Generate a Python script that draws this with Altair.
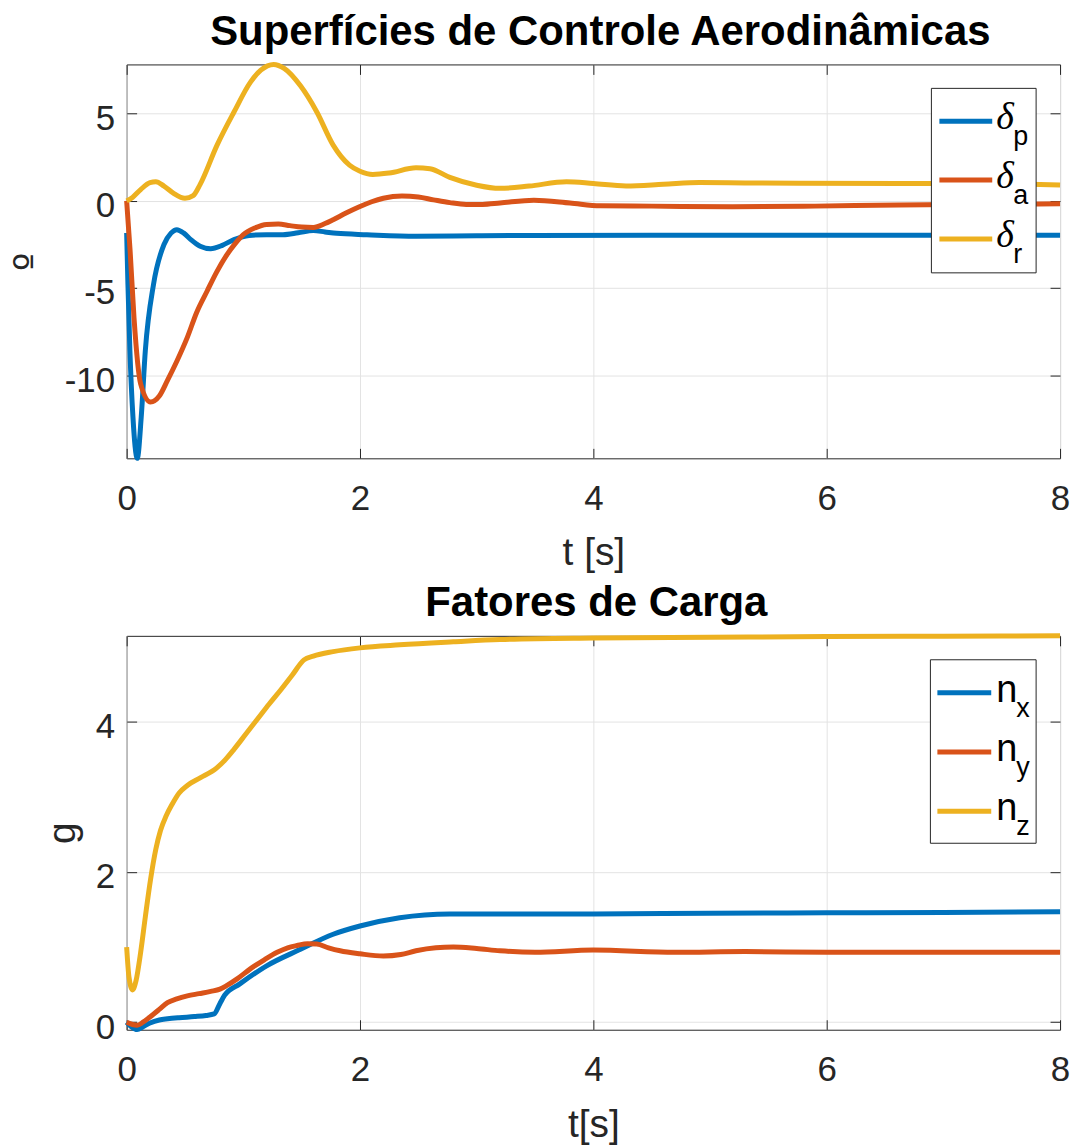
import altair as alt
import pandas as pd

# ---------------- Superfícies de controle (graus) ----------------
t_dp = [0.000, 0.011, 0.028, 0.054, 0.091, 0.125, 0.160, 0.23, 0.32, 0.38, 0.43, 0.49,
        0.55, 0.63, 0.72, 0.82, 0.92, 1.05, 1.20, 1.34, 1.47, 1.60, 1.70, 1.80, 2.06,
        2.48, 3.0, 3.5, 4.5, 6.0, 8.0]
v_dp = [-1.84, -4.8, -8.6, -12.4, -14.77, -12.4, -8.6, -4.8, -2.5, -1.85, -1.65, -1.85,
        -2.22, -2.6, -2.74, -2.55, -2.22, -1.98, -1.94, -1.94, -1.83, -1.70, -1.78, -1.86, -1.94,
        -2.03, -2.0, -1.98, -1.97, -1.97, -1.97]

t_da = [0.000, 0.03, 0.063, 0.12, 0.205, 0.28, 0.35, 0.43, 0.52, 0.60, 0.69, 0.77, 0.86,
        0.93, 1.00, 1.10, 1.20, 1.30, 1.40, 1.50, 1.60, 1.70, 1.77, 1.88, 2.00, 2.10, 2.20,
        2.36, 2.50, 2.63, 2.77, 2.91, 3.05, 3.20, 3.49, 3.8, 4.06, 4.5, 5.19, 5.9, 6.62,
        7.3, 8.0]
v_da = [0.0, -2.9, -6.7, -10.5, -11.54, -11.2, -10.3, -9.2, -7.83, -6.4, -5.17, -4.1, -3.08,
        -2.45, -1.94, -1.55, -1.35, -1.33, -1.42, -1.5, -1.52, -1.3, -1.08, -0.7, -0.32, -0.05,
        0.15, 0.28, 0.22, 0.06, -0.10, -0.2, -0.2, -0.12, 0.04, -0.12, -0.28, -0.3, -0.34,
        -0.3, -0.23, -0.2, -0.17]

t_dr = [0.00, 0.05, 0.12, 0.20, 0.25, 0.32, 0.40, 0.50, 0.57, 0.63, 0.775, 0.92, 1.06,
        1.15, 1.26, 1.35, 1.49, 1.63, 1.77, 1.91, 2.00, 2.11, 2.25, 2.48, 2.60, 2.77, 3.00,
        3.20, 3.45, 3.77, 4.0, 4.28, 4.6, 4.91, 5.3, 5.76, 6.62, 7.2, 7.66, 8.0]
v_dr = [0.0, 0.2, 0.65, 1.05, 1.1, 0.85, 0.45, 0.15, 0.3, 0.95, 3.2, 5.1, 6.8,
        7.5, 7.83, 7.6, 6.6, 5.1, 3.2, 2.05, 1.7, 1.52, 1.6, 1.9, 1.85, 1.35, 0.9,
        0.72, 0.85, 1.10, 1.0, 0.86, 0.95, 1.05, 1.03, 1.01, 1.0, 1.0, 0.97, 0.91]

# ---------------- Fatores de carga (g) ----------------
t_nx = [0.00, 0.04, 0.09, 0.14, 0.20, 0.28, 0.35, 0.45, 0.58, 0.68, 0.75, 0.80, 0.84,
        0.97, 1.20, 1.49, 1.77, 2.00, 2.34, 2.77, 3.2, 4.0, 5.0, 6.0, 7.0, 8.0]
v_nx = [0.0, -0.06, -0.098, -0.06, -0.01, 0.03, 0.045, 0.06, 0.075, 0.09, 0.11, 0.25, 0.36,
        0.51, 0.75, 0.97, 1.17, 1.28, 1.39, 1.44, 1.44, 1.44, 1.45, 1.455, 1.46, 1.47]

t_ny = [0.00, 0.05, 0.09, 0.14, 0.20, 0.28, 0.35, 0.43, 0.52, 0.62, 0.72, 0.80, 0.86,
        0.95, 1.06, 1.18, 1.29, 1.38, 1.46, 1.55, 1.63, 1.73, 1.83, 2.00, 2.20, 2.35,
        2.48, 2.65, 2.80, 3.0, 3.2, 3.5, 4.0, 4.7, 5.3, 6.0, 7.0, 8.0]
v_ny = [0.0, -0.03, -0.04, 0.0, 0.07, 0.17, 0.26, 0.31, 0.35, 0.38, 0.41, 0.44, 0.49,
        0.58, 0.71, 0.83, 0.93, 0.99, 1.02, 1.045, 1.04, 0.99, 0.95, 0.91, 0.88, 0.9,
        0.95, 0.99, 1.0, 0.98, 0.95, 0.93, 0.96, 0.93, 0.94, 0.93, 0.93, 0.93]

t_nz = [0.00, 0.02, 0.05, 0.08, 0.12, 0.16, 0.205, 0.25, 0.29, 0.34, 0.39, 0.45, 0.52,
        0.63, 0.77, 0.85, 0.92, 1.02, 1.12, 1.22, 1.32, 1.42, 1.52, 1.60, 1.77, 2.00,
        2.34, 2.8, 3.2, 4.0, 5.0, 6.0, 7.0, 8.0]
v_nz = [1.0, 0.6, 0.43, 0.55, 0.93, 1.4, 1.9, 2.3, 2.55, 2.75, 2.9, 3.05, 3.15,
        3.25, 3.38, 3.5, 3.63, 3.83, 4.03, 4.23, 4.42, 4.62, 4.82, 4.87, 4.93, 4.98,
        5.02, 5.06, 5.09, 5.11, 5.12, 5.13, 5.135, 5.14]

x_ticks = [0, 2, 4, 6, 8]
y_ticks_top = [-10, -5, 0, 5]
y_ticks_bot = [0, 2, 4]

BLUE, RED, YELLOW = "#0072BD", "#D95319", "#EDB120"
INK = "#262626"
FONT = "Liberation Sans"
W, H = 936, 395
LW = 5


def frame(t, v):
    return pd.DataFrame({"t": t, "v": v})


def x_scale():
    return alt.Scale(domain=[0, 8], nice=False, zero=False)


def panel(series, ydomain, yticks, xtitle, xtitle_y, ytitle, ytitle_x, ytitle_font, title,
          title_offset, title_dx, legend):
    allt = sum((list(s[0]) for s in series), [])
    allv = sum((list(s[1]) for s in series), [])
    both = frame(allt, allv)
    ysc = alt.Scale(domain=ydomain, nice=False, zero=False)

    # bottom / left axes with grid and inward ticks
    axes_main = alt.Chart(both).mark_line(opacity=0).encode(
        x=alt.X("t:Q", scale=x_scale(), axis=alt.Axis(
            orient="bottom", values=x_ticks, offset=-10, tickSize=10, labelPadding=23,
            labelFlush=False, labelExpr="'' + datum.value", grid=True,
            title=xtitle, titleX=W / 2, titleY=xtitle_y, titleAlign="center",
            titleBaseline="alphabetic")),
        y=alt.Y("v:Q", scale=ysc, axis=alt.Axis(
            orient="left", values=yticks, offset=-10, tickSize=10, labelPadding=12,
            labelBaseline="middle", labelOffset=5, labelExpr="'' + datum.value",
            grid=True, title=ytitle, titleFont=ytitle_font, titleAngle=-90,
            titleX=ytitle_x, titleY=H / 2, titleAlign="center",
            titleBaseline="alphabetic")),
    )
    # top / right tick marks of the box
    axes_box = alt.Chart(both).mark_line(opacity=0).encode(
        x=alt.X("t:Q", scale=x_scale(), axis=alt.Axis(
            orient="top", values=x_ticks, offset=-10, tickSize=10, labels=False,
            grid=False, title=None)),
        y=alt.Y("v:Q", scale=ysc, axis=alt.Axis(
            orient="right", values=yticks, offset=-10, tickSize=10, labels=False,
            grid=False, title=None)),
    )
    layers = [axes_main, axes_box]
    for t, v, color in series:
        layers.append(
            alt.Chart(frame(t, v)).mark_line(
                color=color, strokeWidth=LW, interpolate="monotone", strokeJoin="round"
            ).encode(
                x=alt.X("t:Q", scale=x_scale(), axis=None),
                y=alt.Y("v:Q", scale=ysc, axis=None),
            )
        )
    layers += legend
    return alt.layer(*layers).properties(
        width=W, height=H,
        title=alt.TitleParams(
            text=title, font=FONT, fontSize=42, fontWeight="bold", color="black",
            anchor="middle", frame="group", baseline="alphabetic", offset=title_offset,
            dx=title_dx),
    )


def legend(entries, box, row0, step, main_font, main_style, x_line, x_main, x_sub,
           main_dy, sub_dy):
    one = alt.Data(values=[{"k": 0}])
    x0, x1, y0, y1 = box
    out = [alt.Chart(one).mark_rect(fill="white", stroke=INK, strokeWidth=1).encode(
        x=alt.value(x0), x2=alt.value(x1), y=alt.value(y0), y2=alt.value(y1))]
    for i, (main, sub, color) in enumerate(entries):
        yl = row0 + i * step
        out.append(alt.Chart(one).mark_rule(color=color, strokeWidth=LW).encode(
            x=alt.value(x_line[0]), x2=alt.value(x_line[1]), y=alt.value(yl)))
        out.append(alt.Chart(one).mark_text(
            text=main, font=main_font, fontStyle=main_style, fontSize=38, color="black",
            align="left", baseline="alphabetic").encode(
            x=alt.value(x_main), y=alt.value(yl + main_dy)))
        out.append(alt.Chart(one).mark_text(
            text=sub, font=FONT, fontSize=27, color="black",
            align="left", baseline="alphabetic").encode(
            x=alt.value(x_sub), y=alt.value(yl + sub_dy)))
    return out


leg_top = legend(
    [("δ", "p", BLUE), ("δ", "a", RED), ("δ", "r", YELLOW)],
    box=(807, 912, 24, 209), row0=57, step=59, main_font="Liberation Serif",
    main_style="italic", x_line=(815, 868), x_main=872, x_sub=889, main_dy=8, sub_dy=24)

leg_bot = legend(
    [("n", "x", BLUE), ("n", "y", RED), ("n", "z", YELLOW)],
    box=(806, 912, 24, 208), row0=57, step=59.5, main_font=FONT,
    main_style="normal", x_line=(813, 867), x_main=872, x_sub=892, main_dy=9, sub_dy=24)

top = panel(
    [(t_dp, v_dp, BLUE), (t_da, v_da, RED), (t_dr, v_dr, YELLOW)],
    ydomain=[-14.77, 7.83], yticks=y_ticks_top, xtitle="t [s]", xtitle_y=116,
    ytitle="º", ytitle_x=-95, ytitle_font="DejaVu Sans",
    title="Superfícies de Controle Aerodinâmicas",
    title_offset=-25, title_dx=7, legend=leg_top)

bottom = panel(
    [(t_nx, v_nx, BLUE), (t_ny, v_ny, RED), (t_nz, v_nz, YELLOW)],
    ydomain=[-0.1, 5.14], yticks=y_ticks_bot, xtitle="t[s]", xtitle_y=117,
    ytitle="g", ytitle_x=-62, ytitle_font=FONT, title="Fatores de Carga",
    title_offset=-25, title_dx=3, legend=leg_bot)

chart = alt.vconcat(top, bottom, spacing=178, bounds="flush").properties(
    padding={"left": 10, "top": 9, "right": 5, "bottom": 5}
).configure(
    background="white"
).configure_view(
    stroke=INK, strokeWidth=1
).configure_axis(
    labelFont=FONT, labelFontSize=35, labelColor=INK,
    titleFont=FONT, titleFontSize=39, titleFontWeight="normal", titleColor=INK,
    tickColor=INK, tickWidth=1, domain=False,
    gridColor="#e3e3e3", gridWidth=1,
)

chart.save("out.html", embed_options={"renderer": "svg", "actions": False})
